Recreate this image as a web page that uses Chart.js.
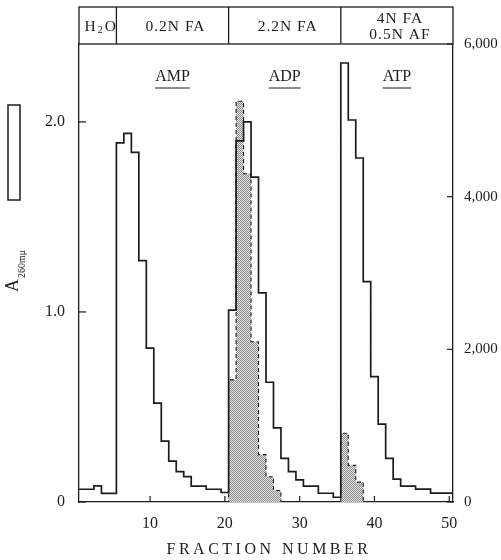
<!DOCTYPE html>
<html>
<head>
<meta charset="utf-8">
<script src="https://cdn.jsdelivr.net/npm/chart.js@4.4.1/dist/chart.umd.min.js"></script>
<style>
body { margin: 0; background: #fff; }
canvas { display: block; }
</style>
</head>
<body>
<canvas id="chart" width="501" height="560"></canvas>
<script>
// fraction numbers (x categories)
const fractions = [1, 2, 3, 4, 5, 6, 7, 8, 9, 10, 11, 12, 13, 14, 15, 16, 17, 18, 19, 20,
  21, 22, 23, 24, 25, 26, 27, 28, 29, 30, 31, 32, 33, 34, 35, 36, 37, 38, 39, 40,
  41, 42, 43, 44, 45, 46, 47, 48, 49, 50]

// absorbance at 260 mu, left axis
const a260 = [0.067, 0.067, 0.085, 0.045, 0.045, 1.89, 1.94, 1.84, 1.27, 0.81,
  0.52, 0.32, 0.215, 0.16, 0.133, 0.084, 0.084, 0.067, 0.067, 0.05,
  1.01, 1.90, 2.00, 1.71, 1.10, 0.63, 0.39, 0.23, 0.16, 0.116,
  0.084, 0.084, 0.046, 0.046, 0.025, 2.31, 2.01, 1.81, 1.16, 0.66,
  0.41, 0.23, 0.12, 0.084, 0.084, 0.068, 0.068, 0.047, 0.047, 0.047]

// radioactivity (stippled), right axis
const cpm = [0, 0, 0, 0, 0, 0, 0, 0, 0, 0,
  0, 0, 0, 0, 0, 0, 0, 0, 0, 0,
  1600, 5250, 4300, 2100, 620, 330, 150, 0, 0, 0,
  0, 0, 0, 0, 0, 900, 480, 260, 0, 0,
  0, 0, 0, 0, 0, 0, 0, 0, 0, 0]

const xTicks = [10, 20, 30, 40, 50]
const leftTicks = [0, 1, 2]
const rightTicks = [0, 2000, 4000, 6000]

// eluent changes and header texts
const solventBreaks = [5.5, 20.5, 35.5]
const solventNames = [["H₂O"], ["0.2N FA"], ["2.2N FA"], ["4N FA", "0.5N AF"]]
const peakNames = ["", "AMP", "ADP", "ATP"]

const ink = "#1c1c1c"
const serif = "'Liberation Serif', 'DejaVu Serif', serif"
const SUBS = "₀₁₂₃₄₅₆₇₈₉"

function stepPoints(values) {
  const pts = fractions.map((f, i) => ({ x: f - 0.5, y: values[i] }))
  const last = fractions.length - 1
  pts.push({ x: fractions[last] + 0.5, y: values[last] })
  return pts
}

function makeStipple() {
  const pc = document.createElement("canvas")
  pc.width = 2
  pc.height = 2
  const p = pc.getContext("2d")
  p.fillStyle = "#e6e6e6"
  p.fillRect(0, 0, 2, 2)
  p.fillStyle = "#8a8a8a"
  p.fillRect(0, 0, 1, 1)
  p.fillRect(1, 1, 1, 1)
  return p.createPattern(pc, "repeat")
}

// draws text where subscript digits are set small and lowered
function richText(ctx, text, cx, cy, size) {
  const runs = []
  ;[...text].forEach(ch => {
    const sub = SUBS.includes(ch)
    const t = sub ? String(SUBS.indexOf(ch)) : ch
    if (runs.length && runs[runs.length - 1].sub === sub) runs[runs.length - 1].t += t
    else runs.push({ t, sub })
  })
  let total = 0
  runs.forEach(r => {
    ctx.font = (r.sub ? size * 0.65 : size) + "px " + serif
    r.w = ctx.measureText(r.t).width + (r.sub ? 2 : 0)
    total += r.w
  })
  let x = cx - total / 2
  runs.forEach(r => {
    ctx.font = (r.sub ? size * 0.65 : size) + "px " + serif
    ctx.fillText(r.t, x + (r.sub ? 1 : 0), cy + (r.sub ? size * 0.22 : 0))
    x += r.w
  })
}

function line(ctx, x1, y1, x2, y2) {
  ctx.beginPath()
  ctx.moveTo(x1, y1)
  ctx.lineTo(x2, y2)
  ctx.stroke()
}

const frame = {
  id: "frame",
  afterDraw(c) {
    const { ctx, chartArea: a, scales } = c
    const x = scales.x
    ctx.save()
    ctx.strokeStyle = ink
    ctx.fillStyle = ink
    ctx.lineWidth = 1.3

    // header box with eluent sections
    const top = 7
    ctx.strokeRect(a.left, top, a.right - a.left, a.top - top)
    const edges = [a.left, ...solventBreaks.map(b => x.getPixelForValue(b)), a.right]
    solventBreaks.forEach(b => {
      const px = x.getPixelForValue(b)
      line(ctx, px, top, px, a.top)
    })

    ctx.textAlign = "left"
    ctx.textBaseline = "middle"
    ctx.letterSpacing = "1px"
    solventNames.forEach((names, i) => {
      const cx = (edges[i] + edges[i + 1]) / 2 + 3
      const mid = (top + a.top) / 2 + 1
      names.forEach((n, j) => {
        const cy = names.length === 1 ? mid : mid - 8 + j * 16
        richText(ctx, n, cx, cy, 15.5)
      })
    })

    // peak names, underlined
    peakNames.forEach((n, i) => {
      if (!n) return
      const cx = (edges[i] + edges[i + 1]) / 2
      ctx.font = "16px " + serif
      ctx.textAlign = "center"
      ctx.letterSpacing = "0px"
      ctx.fillText(n, cx, 77)
      const w = ctx.measureText(n).width
      ctx.lineWidth = 1
      line(ctx, cx - w / 2, 88, cx + w / 2, 88)
    })

    // inward tick marks
    ctx.lineWidth = 1.2
    xTicks.forEach(v => {
      const px = x.getPixelForValue(v)
      line(ctx, px, a.bottom, px, a.bottom - 6)
    })
    leftTicks.forEach(v => {
      const py = scales.y.getPixelForValue(v)
      line(ctx, a.left, py, a.left + 7, py)
    })
    rightTicks.forEach(v => {
      const py = scales.y2.getPixelForValue(v)
      line(ctx, a.right, py, a.right - 6, py)
    })

    // x axis title
    ctx.font = "16px " + serif
    ctx.textAlign = "center"
    ctx.letterSpacing = "3.5px"
    ctx.fillText("FRACTION NUMBER", (a.left + a.right) / 2 + 3, 550)

    // y axis title A 260 mu
    ctx.letterSpacing = "0px"
    ctx.translate(18, 292)
    ctx.rotate(-Math.PI / 2)
    ctx.textAlign = "left"
    ctx.textBaseline = "alphabetic"
    ctx.font = "18px " + serif
    ctx.fillText("A", 0, 0)
    ctx.font = "10px " + serif
    ctx.fillText("260mμ", 14, 7)
    ctx.setTransform(1, 0, 0, 1, 0, 0)

    // scale bar at far left
    ctx.lineWidth = 1.5
    ctx.strokeRect(8, 105, 12, 95)
    ctx.restore()
  }
}

const tickFont = { family: serif, size: 16 }

new Chart(document.getElementById("chart"), {
  type: "line",
  data: {
    datasets: [
      {
        label: "A260",
        data: stepPoints(a260),
        yAxisID: "y",
        borderColor: ink,
        borderWidth: 1.7,
        pointRadius: 0,
        stepped: true,
        fill: false
      },
      {
        label: "cpm",
        data: stepPoints(cpm),
        yAxisID: "y2",
        borderColor: ink,
        borderWidth: 1.1,
        borderDash: [4, 3],
        pointRadius: 0,
        stepped: true,
        fill: "origin",
        backgroundColor: makeStipple()
      }
    ]
  },
  options: {
    responsive: false,
    animation: false,
    layout: { padding: { top: 44 } },
    plugins: { legend: { display: false }, tooltip: { enabled: false } },
    scales: {
      x: {
        type: "linear",
        min: 0.5,
        max: 50.5,
        grid: { display: false },
        border: { color: ink, width: 1.3 },
        ticks: { font: tickFont, color: ink, padding: 4 },
        afterBuildTicks: s => { s.ticks = xTicks.map(v => ({ value: v })) },
        afterFit: s => { s.height = 58 }
      },
      y: {
        position: "left",
        min: 0,
        max: 2.41,
        grid: { display: false },
        border: { color: ink, width: 1.3 },
        ticks: { font: tickFont, color: ink, padding: 6, callback: v => v === 0 ? "0" : v.toFixed(1) },
        afterBuildTicks: s => { s.ticks = leftTicks.map(v => ({ value: v })) },
        afterFit: s => { s.width = 79 }
      },
      y2: {
        position: "right",
        min: 0,
        max: 6000,
        grid: { display: false },
        border: { color: ink, width: 1.3 },
        ticks: { font: { family: serif, size: 15 }, color: ink, padding: 3, callback: v => v.toLocaleString("en-US") },
        afterBuildTicks: s => { s.ticks = rightTicks.map(v => ({ value: v })) },
        afterFit: s => { s.width = 48 }
      }
    }
  },
  plugins: [frame]
})
</script>
</body>
</html>
